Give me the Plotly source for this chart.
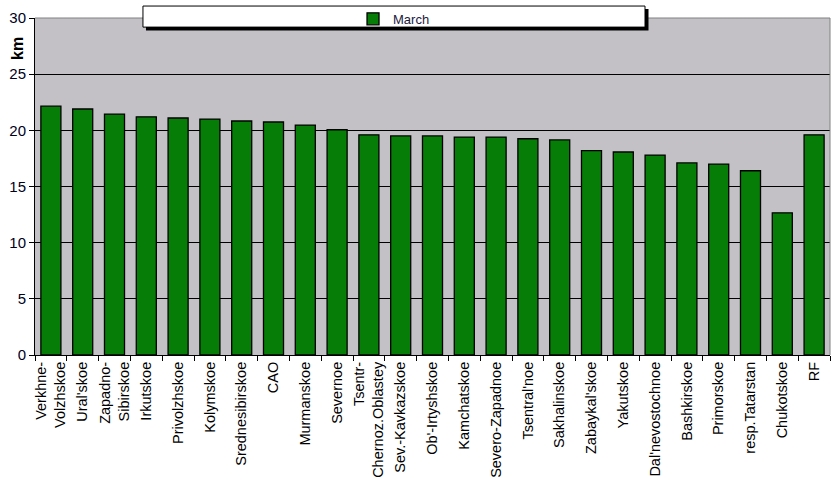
import plotly.graph_objects as go

categories = ["Verkhne-<br>Volzhskoe", "Ural'skoe", "Zapadno-<br>Sibirskoe", "Irkutskoe", "Privolzhskoe",
              "Kolymskoe", "Srednesibirskoe", "CAO", "Murmanskoe", "Severnoe",
              "Tsentr-<br>Chernoz.Oblastey", "Sev.-Kavkazskoe", "Ob'-Irtyshskoe", "Kamchatskoe",
              "Severo-Zapadnoe", "Tsentral'noe", "Sakhalinskoe", "Zabaykal'skoe", "Yakutskoe",
              "Dal'nevostochnoe", "Bashkirskoe", "Primorskoe", "resp.Tatarstan", "Chukotskoe", "RF"]
march = [22.15, 21.9, 21.45, 21.2, 21.1, 21.0, 20.83, 20.74, 20.47, 20.05,
         19.6, 19.5, 19.5, 19.4, 19.4, 19.25, 19.15, 18.2, 18.07,
         17.8, 17.1, 17.0, 16.4, 12.66, 19.6]
y_ticks = [0, 5, 10, 15, 20, 25, 30]

fig = go.Figure()
fig.add_trace(go.Bar(x=categories, y=march, name="March",
                     marker=dict(color="#067D06", line=dict(color="black", width=1.3))))

font = "Liberation Sans, Arial, sans-serif"
fig.update_layout(
    width=835, height=502,
    margin=dict(l=35, r=5, t=17, b=147),
    paper_bgcolor="white", plot_bgcolor="#C3C1C5",
    bargap=0.37,
    font=dict(family=font, size=13, color="black"),
    showlegend=True,
    legend=dict(x=0.4516, y=0.9945, xanchor="center", yanchor="middle",
                orientation="h", bgcolor="rgba(0,0,0,0)", borderwidth=0,
                font=dict(size=13, color="#1a1a40"), itemwidth=30),
    xaxis=dict(showgrid=False, tickangle=-90, ticks="outside", ticklen=5,
               tickson="boundaries", tickcolor="black",
               showline=True, linecolor="black", linewidth=1,
               tickfont=dict(size=14.5, family=font), fixedrange=True),
    yaxis=dict(range=[0, 30], tickvals=y_ticks, showgrid=True, gridcolor="black", gridwidth=1,
               ticks="outside", ticklen=5, tickcolor="black",
               showline=True, linecolor="black", linewidth=1,
               tickfont=dict(size=15, family=font, color="#000020"), zeroline=False),
    shapes=[
        dict(type="line", xref="paper", yref="paper", x0=0, x1=1, y0=1, y1=1,
             line=dict(color="#808080", width=1)),
        dict(type="line", xref="paper", yref="paper", x0=1, x1=1, y0=0, y1=1,
             line=dict(color="#808080", width=1)),
        dict(type="rect", xref="paper", yref="paper", x0=0.1396, x1=0.7717, y0=0.963, y1=1.0266,
             fillcolor="black", line=dict(width=0), layer="above"),
        dict(type="rect", xref="paper", yref="paper", x0=0.1358, x1=0.7673, y0=0.973, y1=1.0355,
             fillcolor="white", line=dict(color="black", width=1), layer="above"),
    ],
    annotations=[dict(text="<b>km</b>", xref="paper", yref="paper", x=-0.0214, y=0.911,
                      textangle=-90, showarrow=False, font=dict(size=16, family=font),
                      xanchor="center", yanchor="middle")],
)

fig.write_html("out.html")
